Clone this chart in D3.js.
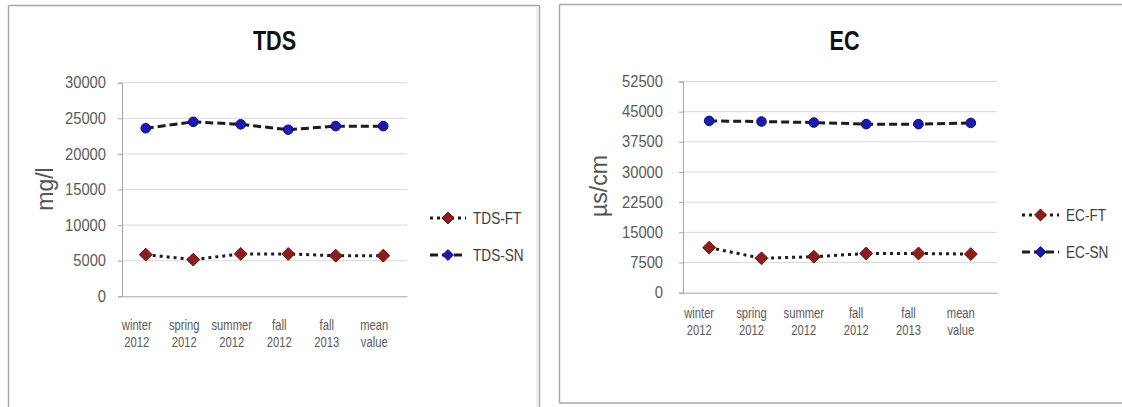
<!DOCTYPE html>
<html>
<head>
<meta charset="utf-8">
<script src="https://cdn.jsdelivr.net/npm/d3@7"></script>
<style>
  html, body { margin: 0; padding: 0; background: #fff; }
  svg { display: block; }
</style>
</head>
<body>
<svg id="chart" width="1122" height="407"></svg>
<script>
// ---- data ----
const categories = ["winter 2012", "spring 2012", "summer 2012", "fall 2012", "fall 2013", "mean value"];
const categoryLines = [["winter", "2012"], ["spring", "2012"], ["summer", "2012"], ["fall", "2012"], ["fall", "2013"], ["mean", "value"]];

const tdsFT = [5850, 5150, 5950, 5950, 5700, 5700];
const tdsSN = [23600, 24500, 24150, 23400, 23900, 23900];
const tdsTicks = [0, 5000, 10000, 15000, 20000, 25000, 30000];

const ecFT = [11200, 8550, 8950, 9750, 9750, 9600];
const ecSN = [42700, 42550, 42300, 41900, 41900, 42200];
const ecTicks = [0, 7500, 15000, 22500, 30000, 37500, 45000, 52500];

const svg = d3.select("#chart");

// squeeze text horizontally to imitate a condensed face
function condense(sel, f) {
  sel.each(function() {
    const w = this.getComputedTextLength();
    d3.select(this).attr("textLength", w * f).attr("lengthAdjust", "spacingAndGlyphs");
  });
}

// panel frames
function frame(x0, y0, x1, y1, sides) {
  const g = svg.append("g");
  const lines = {
    top: [x0, y0, x1, y0], left: [x0, y0, x0, y1],
    right: [x1, y0, x1, y1], bottom: [x0, y1, x1, y1]
  };
  sides.forEach(s => {
    const l = lines[s];
    g.append("line").attr("x1", l[0]).attr("y1", l[1]).attr("x2", l[2]).attr("y2", l[3])
      .attr("stroke", "#a8a8a8").attr("stroke-width", 1.5);
  });
}
frame(8.5, 5.5, 539.5, 410, ["top", "left", "right"]);
svg.append("line").attr("x1", 537).attr("y1", 7).attr("x2", 537).attr("y2", 407)
  .attr("stroke", "#dcdcdc").attr("stroke-width", 1);
frame(559.5, 4.5, 1125, 403, ["top", "left", "bottom"]);

function drawChart(cfg) {
  const g = svg.append("g");
  const x = d3.scaleBand().domain(categories).range(cfg.xRange);
  const y = d3.scaleLinear().domain([0, cfg.ticks[cfg.ticks.length - 1]]).range(cfg.yRange);

  // title
  const title = g.append("text").attr("x", cfg.titleX).attr("y", 50)
    .attr("text-anchor", "middle")
    .attr("font-family", "'Liberation Sans', sans-serif")
    .attr("font-weight", "bold").attr("font-size", 27).attr("fill", "#111")
    .text(cfg.title);
  condense(title, 0.8);

  // gridlines
  g.append("g").selectAll("line").data(cfg.ticks.filter(t => t > 0)).join("line")
    .attr("x1", cfg.xRange[0]).attr("x2", cfg.xRange[1])
    .attr("y1", d => y(d)).attr("y2", d => y(d))
    .attr("stroke", "#dadada").attr("stroke-width", 1);

  // y axis
  const yAxis = g.append("g").attr("transform", `translate(${cfg.xRange[0]},0)`)
    .call(d3.axisLeft(y).tickValues(cfg.ticks).tickSize(4).tickPadding(cfg.tickPad).tickFormat(d3.format("d")));
  yAxis.select(".domain").attr("stroke", "#a6a6a6");
  yAxis.selectAll(".tick line").attr("stroke", "#a6a6a6");
  yAxis.selectAll(".tick text")
    .attr("font-family", "'Liberation Sans', sans-serif").attr("font-size", 16)
    .attr("fill", "#5a5a5a");
  condense(yAxis.selectAll(".tick text"), 0.92);

  // x axis
  const xAxis = g.append("g").attr("transform", `translate(0,${cfg.yRange[0]})`)
    .call(d3.axisBottom(x).tickSize(0).tickFormat(""));
  xAxis.select(".domain").attr("stroke", "#a6a6a6");

  // x labels (two lines)
  const lab = g.append("g").selectAll("text").data(categories).join("text")
    .attr("x", d => x(d) + x.bandwidth() / 2 + cfg.labelDx)
    .attr("y", cfg.labelY)
    .attr("text-anchor", "middle")
    .attr("font-family", "'Liberation Sans', sans-serif")
    .attr("font-size", 14).attr("fill", "#5a5a5a");
  lab.each(function(d, i) {
    const t = d3.select(this);
    categoryLines[i].forEach((s, k) => {
      t.append("tspan").attr("x", x(d) + x.bandwidth() / 2 + cfg.labelDx)
        .attr("dy", k === 0 ? 0 : 16.5).text(s);
    });
  });
  condense(lab.selectAll("tspan"), 0.8);

  // y axis title
  g.append("text")
    .attr("transform", `translate(${cfg.yTitleX},${cfg.yTitleY}) rotate(-90)`)
    .attr("text-anchor", "middle")
    .attr("font-family", "'Liberation Sans', sans-serif").attr("font-size", 23)
    .attr("fill", "#555")
    .text(cfg.yTitle);

  const cx = d => x(d) + x.bandwidth() / 2;
  const line = d3.line().x((d, i) => cx(categories[i])).y(d => y(d));

  // SN series (dashed, blue circles)
  g.append("path").datum(cfg.sn).attr("d", line)
    .attr("fill", "none").attr("stroke", "#1c1c1c").attr("stroke-width", 3)
    .attr("stroke-dasharray", "8,4");
  g.append("g").selectAll("circle").data(cfg.sn).join("circle")
    .attr("cx", (d, i) => cx(categories[i])).attr("cy", d => y(d)).attr("r", 4.8)
    .attr("fill", "#1a1ab0").attr("stroke", "#0c0c80").attr("stroke-width", 1);

  // FT series (dotted, red diamonds)
  g.append("path").datum(cfg.ft).attr("d", line)
    .attr("fill", "none").attr("stroke", "#1c1c1c").attr("stroke-width", 3)
    .attr("stroke-dasharray", "3,4");
  const diamond = d3.symbol().type(d3.symbolDiamond2).size(105);
  g.append("g").selectAll("path").data(cfg.ft).join("path")
    .attr("d", diamond)
    .attr("transform", (d, i) => `translate(${cx(categories[i])},${y(d)})`)
    .attr("fill", "#8e1d1d").attr("stroke", "#5a0e0e").attr("stroke-width", 1);

  // legend
  const leg = g.append("g");
  const items = [
    { name: cfg.legendFT, dash: "3,4", kind: "ft", y: cfg.legendY[0] },
    { name: cfg.legendSN, dash: "8,4", kind: "sn", y: cfg.legendY[1] }
  ];
  items.forEach(it => {
    leg.append("line").attr("x1", cfg.legendX[0]).attr("x2", cfg.legendX[1])
      .attr("y1", it.y).attr("y2", it.y)
      .attr("stroke", "#1c1c1c").attr("stroke-width", 3).attr("stroke-dasharray", it.dash);
    const mx = (cfg.legendX[0] + cfg.legendX[1]) / 2;
    if (it.kind === "ft") {
      leg.append("path").attr("d", d3.symbol().type(d3.symbolDiamond2).size(90))
        .attr("transform", `translate(${mx},${it.y})`)
        .attr("fill", "#8e1d1d").attr("stroke", "#5a0e0e");
    } else {
      leg.append("path").attr("d", d3.symbol().type(d3.symbolDiamond2).size(75))
        .attr("transform", `translate(${mx},${it.y})`)
        .attr("fill", "#1a1ab0").attr("stroke", "#0c0c80");
    }
    const t = leg.append("text").attr("x", cfg.legendX[1] + 7).attr("y", it.y).attr("dy", "0.36em")
      .attr("font-family", "'Liberation Sans', sans-serif")
      .attr("font-size", 17).attr("fill", "#404040").text(it.name);
    condense(t, 0.8);
  });
}

drawChart({
  title: "TDS", titleX: 274.5,
  xRange: [122, 407], yRange: [296.3, 82.7],
  ticks: tdsTicks, tickPad: 12,
  ft: tdsFT, sn: tdsSN,
  labelDx: -9, labelY: 330,
  yTitle: "mg/l", yTitleX: 53, yTitleY: 189,
  legendFT: "TDS-FT", legendSN: "TDS-SN",
  legendX: [430, 466], legendY: [218, 255]
});

drawChart({
  title: "EC", titleX: 844.5,
  xRange: [683, 997], yRange: [292.7, 81.5],
  ticks: ecTicks, tickPad: 16,
  ft: ecFT, sn: ecSN,
  labelDx: -10, labelY: 318,
  yTitle: "µs/cm", yTitleX: 607, yTitleY: 186,
  legendFT: "EC-FT", legendSN: "EC-SN",
  legendX: [1022, 1059], legendY: [215, 252]
});
</script>
</body>
</html>
